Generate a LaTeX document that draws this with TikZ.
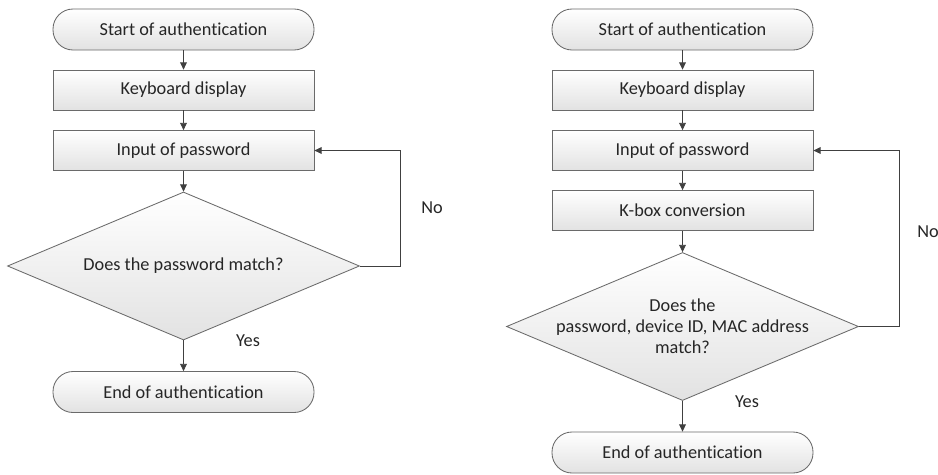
\documentclass[tikz,border=0pt]{standalone}
\usepackage{fontspec}
\setmainfont{Carlito}[Ligatures=NoCommon]
\usetikzlibrary{arrows.meta, positioning, shapes.geometric}
\definecolor{lngray}{HTML}{6A6A6A}
\definecolor{arrgray}{HTML}{404040}
\definecolor{txtgray}{HTML}{262626}
\definecolor{boxtop}{HTML}{FFFFFF}
\definecolor{boxbot}{HTML}{E2E2E2}

\tikzset{
  base/.style={draw=lngray, line width=0.6pt, top color=boxtop, bottom color=boxbot,
    text=txtgray, font=\fontsize{13}{15}\selectfont, align=center},
  term/.style={base, rectangle, rounded corners=0.5cm, minimum width=6.525cm, minimum height=1.025cm},
  proc/.style={base, rectangle, minimum width=6.525cm, minimum height=1cm},
  decide/.style={base, diamond, inner sep=0pt, minimum width=8.8cm, minimum height=3.7cm},
  flow/.style={-{Triangle[length=1.8mm, width=1.7mm]}, arrgray, line width=0.6pt},
  lbl/.style={text=txtgray, font=\fontsize{13}{15}\selectfont},
}

\begin{document}
\begin{tikzpicture}

% Background
\useasboundingbox (0,0) rectangle (23.45,11.85);
\fill[white] (0,0) rectangle (23.45,11.85);

% =========== LEFT FLOW ===========
\node[term] (start1) at (4.5875,11.1125) {Start of authentication};
\node[proc] (kbd1) at (4.5875,9.6) {Keyboard display};
\node[proc] (in1) at (4.5875,8.0875) {Input of password};
\node[decide, label={[lbl]center:Does the password match?}] (dia1) at (4.5875,5.2) {};
\node[term] (end1) at (4.5875,2.05) {End of authentication};

\draw[flow] (start1) -- (kbd1);
\draw[flow] (kbd1) -- (in1);
\draw[flow] (in1) -- (dia1);
\draw[flow] (dia1) -- (end1);
\draw[flow] (dia1.east) -- ++(1,0) |- (in1.east);

\node[lbl] (no1) at (10.8,6.65) {No};
\node[lbl] (yes1) at (6.2,3.325) {Yes};

% =========== RIGHT FLOW ===========
\node[term] (start2) at (17.0625,11.1125) {Start of authentication};
\node[proc] (kbd2) at (17.0625,9.6) {Keyboard display};
\node[proc] (in2) at (17.0625,8.0875) {Input of password};
\node[proc] (kbox2) at (17.0625,6.5875) {K-box conversion};
\node[decide, label={[lbl, align=center]center:Does the\\password, device ID, MAC address\\match?}]
  (dia2) at (17.0625,3.6875) {};
\node[term] (end2) at (17.0625,0.5375) {End of authentication};

\draw[flow] (start2) -- (kbd2);
\draw[flow] (kbd2) -- (in2);
\draw[flow] (in2) -- (kbox2);
\draw[flow] (kbox2) -- (dia2);
\draw[flow] (dia2) -- (end2);
\draw[flow] (dia2.east) -- ++(1,0) |- (in2.east);

\node[lbl] (no2) at (23.2,6.05) {No};
\node[lbl] (yes2) at (18.675,1.8) {Yes};

\end{tikzpicture}
\end{document}
